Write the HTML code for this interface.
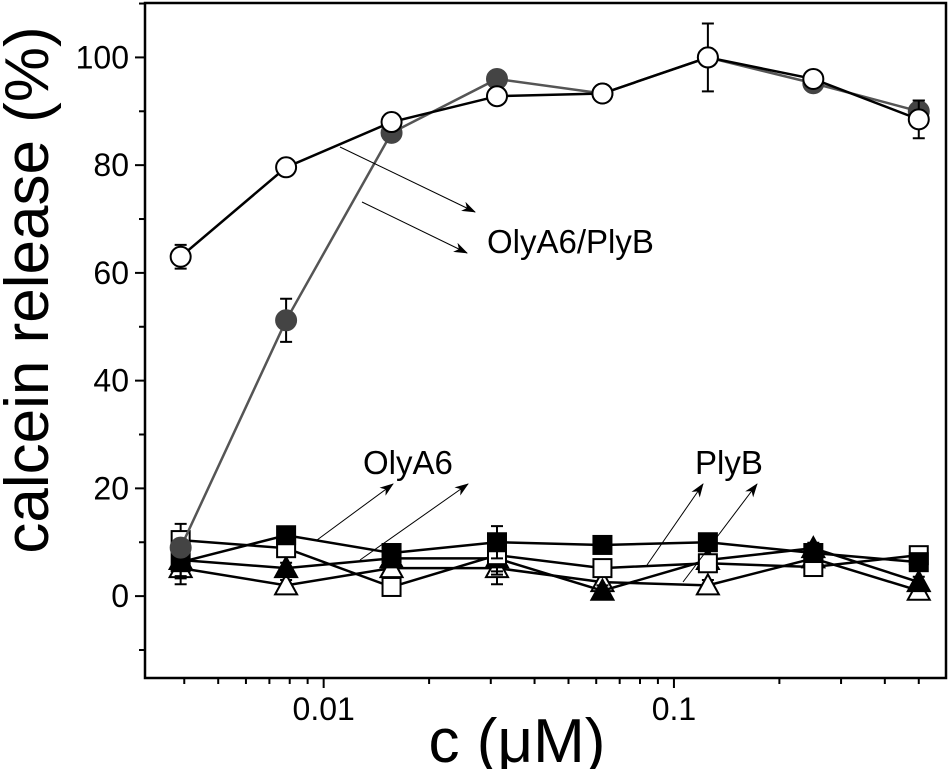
<!DOCTYPE html>
<html><head><meta charset="utf-8"><style>
html,body{margin:0;padding:0;background:#fff;}
svg{display:block;font-family:"Liberation Sans",Arial,sans-serif;}
</style></head><body>
<svg id="chart" width="952" height="769" viewBox="0 0 952 769">
<g id="axes"></g><g id="plot"></g><g id="annot"></g>
</svg>
<script>
const concentrations=[0.00390625,0.0078125,0.015625,0.03125,0.0625,0.125,0.25,0.5];
const openCircle=[63,79.6,88,92.8,93.3,100,96,88.5];
const openCircleErr=[2.2,0.7,1,1,0.8,6.3,1.5,3.5];
const grayCircle=[9,51.2,86,96,93.3,100,95.2,90];
const grayCircleErr=[1,4,1,0.5,0.5,1,1,2];
const filledSquare=[6.3,11.3,8,10,9.5,10,8,6.3];
const openSquare=[10.4,8.9,1.7,7.6,5.2,6.1,5.4,7.6];
const filledTri=[6.7,5.2,7,7,1,6.7,8.9,2.6];
const openTri=[5.2,2,5.2,5.2,2.6,2,7,1];
const lowErr=[3,1,1.5,3,1,1,1,1];
const yTicks=[0,20,40,60,80,100];
const xTicks=[0.01,0.1];
const xTickLabels=["0.01","0.1"];

const L=145,R=946,T=3,B=678;
const xmin=Math.log10(0.00309),xmax=Math.log10(0.598);
const ymin=-15.2,ymax=110.1;
const X=v=>L+(Math.log10(v)-xmin)/(xmax-xmin)*(R-L);
const Y=v=>B-(v-ymin)/(ymax-ymin)*(B-T);
const NS="http://www.w3.org/2000/svg";
function mk(tag,attrs,parent){const e=document.createElementNS(NS,tag);for(const k in attrs)e.setAttribute(k,attrs[k]);parent.appendChild(e);return e;}
const axes=document.getElementById('axes'),plot=document.getElementById('plot'),annot=document.getElementById('annot');

const frame=mk('rect',{x:L,y:T,width:R-L,height:B-T,fill:'none',stroke:'#000','stroke-width':2.5},axes);


for(let v=-10;v<=110;v+=10){
  const major=v%20===0;
  const t=mk('line',{x1:L,x2:L-(major?10:6),y1:Y(v),y2:Y(v),stroke:'#000','stroke-width':2},axes);
  
  
}
yTicks.forEach(v=>{
  const t=mk('text',{x:L-16,y:Y(v)+11,'text-anchor':'end','font-size':32},axes);
  t.textContent=v;
  
  
});
for(let d=-3;d<=-1;d++){for(let m=1;m<=9;m++){const v=m*Math.pow(10,d);if(v<0.00309||v>0.598)continue;
  const major=(m===1);
  const t=mk('line',{x1:X(v),x2:X(v),y1:B,y2:B+(major?10:6),stroke:'#000','stroke-width':2},axes);
  
  
}}
xTicks.forEach((v,i)=>{
  const t=mk('text',{x:X(v),y:B+42,'text-anchor':'middle','font-size':32},axes);
  t.textContent=xTickLabels[i];
  
  
});
const yt=mk('text',{x:0,y:0,transform:'translate(48,290) rotate(-90)','text-anchor':'middle','font-size':62},axes);
yt.textContent='calcein release (%)';


const xt=mk('text',{x:517,y:762,'text-anchor':'middle','font-size':62},axes);
xt.textContent='c (\u03bcM)';



function series(vals,errs,name,color,width,marker,fill){
  const g=mk('g',{},plot);
  
  
  const pts=vals.map((v,i)=>X(concentrations[i])+','+Y(vals[i])).join(' ');
  mk('polyline',{points:pts,fill:'none',stroke:color,'stroke-width':width},g);
  vals.forEach((v,i)=>{
    const x=X(concentrations[i]),e=errs[i];
    const eb=mk('path',{d:`M${x},${Y(v+e)}V${Y(v-e)}M${x-6},${Y(v+e)}H${x+6}M${x-6},${Y(v-e)}H${x+6}`,stroke:'#000','stroke-width':2,fill:'none'},g);
    
    
    const y=Y(v);let m;
    if(marker==='circle')m=mk('circle',{cx:x,cy:y,r:10,fill:fill,stroke:fill==='#fff'?'#000':fill,'stroke-width':2},g);
    else if(marker==='square')m=mk('rect',{x:x-9,y:y-9,width:18,height:18,fill:fill,stroke:'#000','stroke-width':2},g);
    else m=mk('polygon',{points:`${x},${y-11} ${x-11},${y+9} ${x+11},${y+9}`,fill:fill,stroke:'#000','stroke-width':2},g);
    
    
  });
}
series(openTri,lowErr,'olya6-open-triangle','#000',2.5,'tri','#fff');
series(filledTri,lowErr,'plyb-filled-triangle','#000',2.5,'tri','#000');
series(openSquare,lowErr,'olya6-open-square','#000',2.5,'square','#fff');
series(filledSquare,lowErr,'plyb-filled-square','#000',2.5,'square','#000');
series(grayCircle,grayCircleErr,'olya6-plyb-gray-circle','#555',2.5,'circle','#444');
series(openCircle,openCircleErr,'olya6-plyb-open-circle','#000',2.5,'circle','#fff');

const defs=mk('defs',{},annot);
const mkr=mk('marker',{id:'ah',markerWidth:14,markerHeight:10,refX:13,refY:5,orient:'auto',markerUnits:'userSpaceOnUse'},defs);
mk('path',{d:'M0,0 L14,5 L0,10 L4,5 Z',fill:'#000'},mkr);
[[340,147,475,212],[362,202,467,253],[317,540,393,484],[360,560,468,484],[647,565,703,484],[683,582,757,484]].forEach(a=>{
  const l=mk('line',{x1:a[0],y1:a[1],x2:a[2],y2:a[3],stroke:'#000','stroke-width':1,'marker-end':'url(#ah)'},annot);
  
  
});
[['OlyA6/PlyB',487,253,'label-olya6-plyb'],['OlyA6',363,474,'label-olya6'],['PlyB',695,474,'label-plyb']].forEach(s=>{
  const t=mk('text',{x:s[1],y:s[2],'font-size':33},annot);
  t.textContent=s[0];
  
  
});
</script>
</body></html>
